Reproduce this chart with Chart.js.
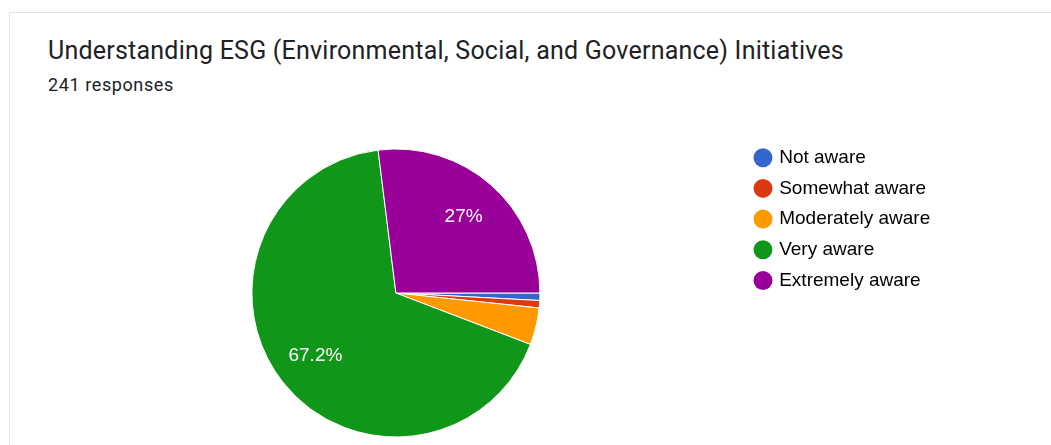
<!DOCTYPE html>
<html>
<head>
<meta charset="utf-8">
<script src="https://cdn.jsdelivr.net/npm/chart.js@4/dist/chart.umd.min.js"></script>
<style>
  html, body { margin: 0; padding: 0; background: #fff; overflow: hidden; }
  #wrap { position: relative; width: 1051px; height: 445px; overflow: hidden; }
  #card {
    position: absolute; left: 9px; top: 12px; right: -5px; bottom: -5px;
    border-top: 1px solid #e6e5db; border-left: 1px solid #e6e5db;
  }
  .title {
    position: absolute; left: 48px; top: 38px; letter-spacing: 0.22px;
    font: 400 25px/25px Roboto, sans-serif; color: #202124; white-space: nowrap;
  }
  .sub {
    position: absolute; left: 48px; top: 75.9px; letter-spacing: 0.6px;
    font: 400 18px/18px Roboto, sans-serif; color: #202124; white-space: nowrap;
  }
  canvas { position: absolute; left: 0; top: 0; }
</style>
</head>
<body>
<div id="wrap">
  <div id="card"></div>
  <div class="title">Understanding ESG (Environmental, Social, and Governance) Initiatives</div>
  <div class="sub">241 responses</div>
  <canvas id="pie" width="1051" height="460"></canvas>
</div>
<script>
const labels = ['Not aware', 'Somewhat aware', 'Moderately aware', 'Very aware', 'Extremely aware'];
const responses = [2, 2, 10, 162, 65];
const colors = ['#3366cc', '#dc3912', '#ff9900', '#109618', '#990099'];

// percentage text inside slices big enough to hold it
const sliceLabels = {
  id: 'sliceLabels',
  afterDatasetsDraw(chart) {
    const ctx = chart.ctx;
    const data = chart.data.datasets[0].data;
    const total = data.reduce((a, b) => a + b, 0);
    chart.getDatasetMeta(0).data.forEach((arc, i) => {
      const pct = data[i] / total * 100;
      if (pct < 5) return;
      const p = arc.getProps(['x', 'y', 'startAngle', 'endAngle', 'outerRadius'], true);
      const mid = (p.startAngle + p.endAngle) / 2;
      const r = p.outerRadius * 0.71;
      ctx.save();
      ctx.fillStyle = '#fff';
      ctx.font = '19px "Liberation Sans", Arial, sans-serif';
      ctx.textAlign = 'center';
      ctx.textBaseline = 'middle';
      ctx.fillText(parseFloat(pct.toFixed(1)) + '%', p.x + Math.cos(mid) * r, p.y + Math.sin(mid) * r);
      ctx.restore();
    });
  }
};

new Chart(document.getElementById('pie').getContext('2d'), {
  type: 'pie',
  data: {
    labels: labels,
    datasets: [{
      data: responses,
      backgroundColor: colors,
      borderColor: '#fff',
      borderWidth: 1,
      radius: 144
    }]
  },
  options: {
    responsive: false,
    animation: false,
    rotation: 90,
    layout: { padding: { left: 47.2, top: 136.5, right: 110.8, bottom: 10.5 } },
    plugins: {
      tooltip: { enabled: false },
      legend: {
        position: 'right',
        align: 'start',
        labels: {
          usePointStyle: true,
          boxWidth: 13.4,
          boxHeight: 13.4,
          padding: 11.7,
          color: '#222',
          font: { family: '"Liberation Sans", Arial, sans-serif', size: 19 },
          generateLabels: chart => labels.map((text, i) => ({
            text: text,
            fillStyle: colors[i],
            strokeStyle: colors[i],
            lineWidth: 0,
            pointStyle: 'circle',
            hidden: false,
            index: i
          }))
        }
      }
    }
  },
  plugins: [sliceLabels]
});
</script>
</body>
</html>
